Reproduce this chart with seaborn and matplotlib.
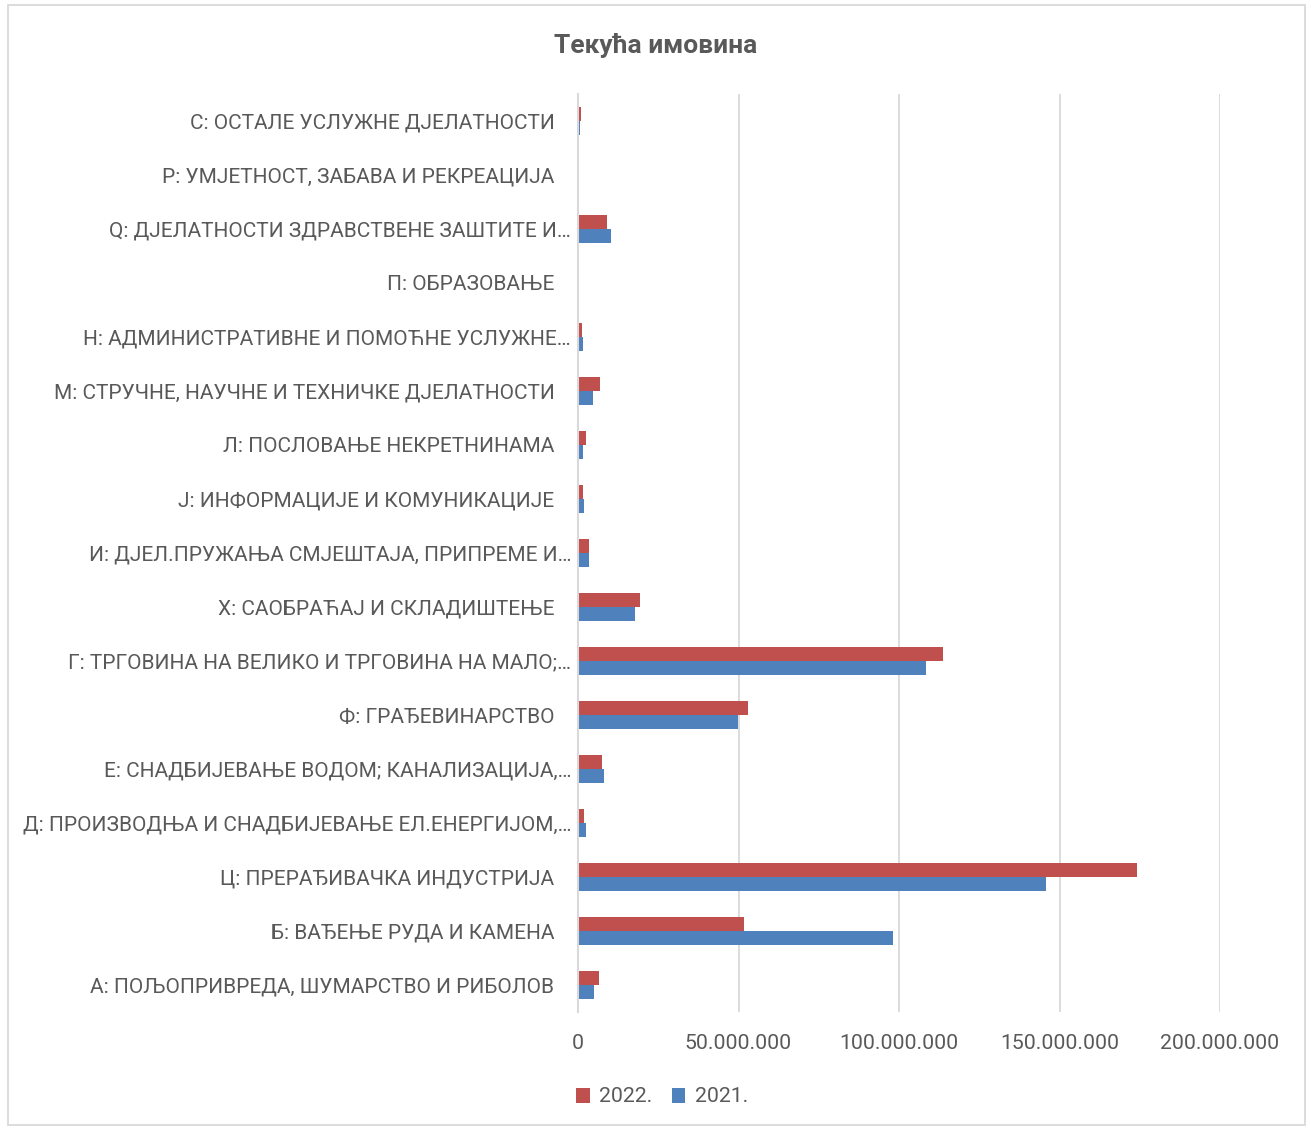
import pandas as pd
import matplotlib
matplotlib.use("Agg")
import matplotlib.pyplot as plt
import seaborn as sns
from matplotlib.ticker import FuncFormatter
from matplotlib.patches import Rectangle

# categories, top to bottom as in the chart
categories = [
    "С: ОСТАЛЕ УСЛУЖНЕ ДЈЕЛАТНОСТИ",
    "Р: УМЈЕТНОСТ, ЗАБАВА И РЕКРЕАЦИЈА",
    "Q: ДЈЕЛАТНОСТИ ЗДРАВСТВЕНЕ ЗАШТИТЕ И…",
    "П: ОБРАЗОВАЊЕ",
    "Н: АДМИНИСТРАТИВНЕ И ПОМОЋНЕ УСЛУЖНЕ…",
    "М: СТРУЧНЕ, НАУЧНЕ И ТЕХНИЧКЕ ДЈЕЛАТНОСТИ",
    "Л: ПОСЛОВАЊЕ НЕКРЕТНИНАМА",
    "Ј: ИНФОРМАЦИЈЕ И КОМУНИКАЦИЈЕ",
    "И: ДЈЕЛ.ПРУЖАЊА СМЈЕШТАЈА, ПРИПРЕМЕ И…",
    "Х: САОБРАЋАЈ И СКЛАДИШТЕЊЕ",
    "Г: ТРГОВИНА НА ВЕЛИКО И ТРГОВИНА НА МАЛО;…",
    "Ф: ГРАЂЕВИНАРСТВО",
    "Е: СНАДБИЈЕВАЊЕ ВОДОМ; КАНАЛИЗАЦИЈА,…",
    "Д: ПРОИЗВОДЊА И СНАДБИЈЕВАЊЕ ЕЛ.ЕНЕРГИЈОМ,…",
    "Ц: ПРЕРАЂИВАЧКА ИНДУСТРИЈА",
    "Б: ВАЂЕЊЕ РУДА И КАМЕНА",
    "А: ПОЉОПРИВРЕДА, ШУМАРСТВО И РИБОЛОВ",
]

vals_2022 = [1000000, 50000, 8900000, 300000, 1250000, 6850000, 2400000,
             1550000, 3400000, 19200000, 113600000, 53000000, 7400000,
             2000000, 174000000, 51700000, 6600000]
vals_2021 = [750000, 30000, 10200000, 100000, 1450000, 4600000, 1550000,
             1870000, 3400000, 17700000, 108400000, 49700000, 8200000,
             2600000, 145800000, 98000000, 5000000]

series = ["2022.", "2021."]
colors = ["#C0504D", "#4F81BD"]
x_ticks = [0, 50000000, 100000000, 150000000, 200000000]

df = pd.DataFrame({
    "kategorija": categories * 2,
    "vrijednost": vals_2022 + vals_2021,
    "godina": [series[0]] * len(categories) + [series[1]] * len(categories),
})

sns.set_theme(style="white")
plt.rcParams["font.family"] = ["Roboto", "DejaVu Sans"]
text_col = "#595959"

fig = plt.figure(figsize=(13.11, 11.30), dpi=100)
ax = fig.add_axes([578 / 1311, 1 - 1012 / 1130, (1220 - 578) / 1311, (1012 - 94) / 1130])

sns.barplot(data=df, y="kategorija", x="vrijednost", hue="godina",
            hue_order=series, palette=colors, order=categories,
            orient="h", width=0.53, saturation=1, ax=ax, linewidth=0)

ax.set_xlim(0, 200000000)
ax.set_xticks(x_ticks)
ax.xaxis.set_major_formatter(FuncFormatter(lambda v, p: f"{int(v):,}".replace(",", ".")))
ax.set_xlabel("")
ax.set_ylabel("")
ax.grid(axis="x", color="#D9D9D9", linewidth=1.3)
ax.set_axisbelow(True)
for s in ["top", "right", "bottom"]:
    ax.spines[s].set_visible(False)
ax.spines["left"].set_color("#D9D9D9")
ax.spines["left"].set_linewidth(1.5)

ax.tick_params(axis="y", length=0, labelsize=15, labelcolor=text_col)
ax.tick_params(axis="x", length=0, labelsize=15.3, labelcolor=text_col, pad=16)

# full labels sit a bit further from the axis than the truncated ones
for tick, lab in zip(ax.yaxis.get_major_ticks(), categories):
    tick.set_pad(5 if lab.endswith("…") else 17)

fig.suptitle("Текућа имовина", x=0.5, y=1 - 45 / 1130, va="center",
             fontsize=19, fontweight="bold", color=text_col)

sns.move_legend(ax, "center", bbox_to_anchor=(662 / 1311, 1 - 1097 / 1130),
                bbox_transform=fig.transFigure, ncol=2, frameon=False,
                title=None, fontsize=15.3, handlelength=0.65, handleheight=0.7,
                handletextpad=0.45, columnspacing=0.9)
for t in ax.get_legend().get_texts():
    t.set_color(text_col)

fig.patches.append(Rectangle((8 / 1311, 1 - 1125 / 1130), 1297 / 1311, 1120 / 1130,
                             transform=fig.transFigure, fill=False,
                             edgecolor="#D9D9D9", linewidth=1.3))

fig.savefig("out.png", dpi=100)
